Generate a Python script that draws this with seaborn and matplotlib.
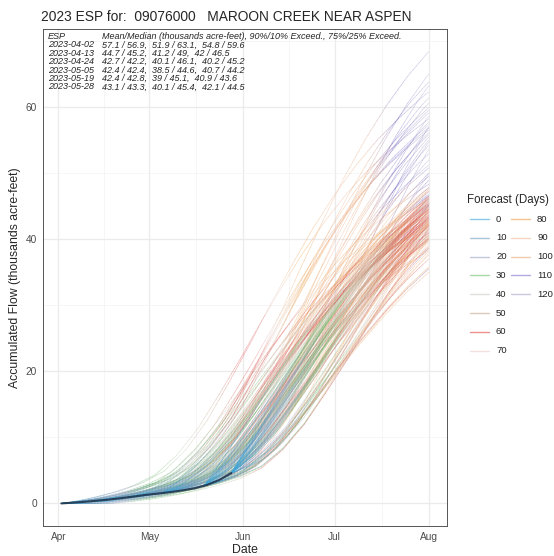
import numpy as np
import pandas as pd
import matplotlib
matplotlib.use("Agg")
import matplotlib.pyplot as plt
import matplotlib.dates as mdates
from matplotlib.collections import LineCollection
from matplotlib.colors import LinearSegmentedColormap
from matplotlib.lines import Line2D
import seaborn as sns

# ---------------------------------------------------------------- data
title = "2023 ESP for:  09076000   MAROON CREEK NEAR ASPEN"
season_start = "2023-04-01"
season_end = "2023-08-01"

# observed accumulated flow (thousands acre-feet) up to the last issue date
obs_dates = ["2023-04-02", "2023-04-06", "2023-04-10", "2023-04-14", "2023-04-18",
             "2023-04-22", "2023-04-26", "2023-04-30", "2023-05-04", "2023-05-08",
             "2023-05-12", "2023-05-16", "2023-05-20", "2023-05-24", "2023-05-28"]
obs_values = [0.0, 0.12, 0.26, 0.42, 0.6, 0.82, 1.05, 1.3, 1.5, 1.72,
              1.98, 2.3, 2.8, 3.55, 4.6]

# forecast issue dates and summary table text
issue_dates = ["2023-04-02", "2023-04-13", "2023-04-24",
               "2023-05-05", "2023-05-19", "2023-05-28"]
table_header = ["ESP", "Mean/Median (thousands acre-feet), 90%/10% Exceed., 75%/25% Exceed."]
table_stats = ["57.1 / 56.9,  51.9 / 63.1,  54.8 / 59.6",
               "44.7 / 45.2,  41.2 / 49,  42 / 46.5",
               "42.7 / 42.2,  40.1 / 46.1,  40.2 / 45.2",
               "42.4 / 42.4,  38.5 / 44.6,  40.7 / 44.2",
               "42.4 / 42.8,  39 / 45.1,  40.9 / 43.6",
               "43.1 / 43.3,  40.1 / 45.4,  42.1 / 44.5"]

# ensemble Aug 1 volumes for each issue date (sorted ascending)
vol_0402 = [45.0, 49.8, 51.2, 52.0, 52.9, 53.6, 54.2, 54.7, 55.0, 55.4,
            55.8, 56.1, 56.5, 56.8, 56.9, 57.0, 57.3, 57.7, 58.2, 58.6,
            59.1, 59.5, 59.9, 60.6, 61.4, 62.3, 63.2, 63.8, 65.0, 68.4]
vol_0413 = [35.5, 38.6, 40.0, 40.6, 41.0, 41.5, 41.9, 42.2, 42.8, 43.4,
            44.0, 44.5, 45.0, 45.1, 45.2, 45.2, 45.4, 45.7, 46.0, 46.3,
            46.5, 46.6, 46.8, 47.2, 47.8, 48.3, 48.9, 49.5, 50.0, 50.8]
vol_0424 = [35.0, 38.2, 39.6, 40.0, 40.1, 40.2, 40.2, 40.5, 41.0, 41.4,
            41.8, 42.0, 42.1, 42.2, 42.2, 42.3, 42.6, 43.0, 43.6, 44.2,
            44.8, 45.1, 45.3, 45.6, 45.9, 46.1, 46.5, 47.2, 47.5, 47.8]
vol_0505 = [35.8, 37.6, 38.3, 38.6, 39.4, 40.0, 40.6, 40.8, 41.2, 41.6,
            41.9, 42.1, 42.3, 42.4, 42.4, 42.5, 42.7, 43.0, 43.3, 43.7,
            44.0, 44.2, 44.3, 44.4, 44.5, 44.6, 44.8, 45.4, 46.3, 47.5]
vol_0519 = [35.6, 37.8, 38.7, 39.1, 39.8, 40.4, 40.9, 41.2, 41.6, 41.9,
            42.2, 42.5, 42.6, 42.7, 42.8, 42.8, 42.9, 43.1, 43.3, 43.5,
            43.6, 43.7, 44.0, 44.3, 44.7, 45.0, 45.3, 45.8, 45.9, 46.4]
vol_0528 = [37.0, 38.9, 39.8, 40.2, 40.9, 41.6, 42.0, 42.2, 42.5, 42.8,
            43.0, 43.1, 43.2, 43.3, 43.3, 43.4, 43.6, 43.8, 44.0, 44.2,
            44.4, 44.5, 44.6, 44.8, 45.1, 45.3, 45.6, 46.1, 46.2, 46.5]
ensemble_volumes = [vol_0402, vol_0413, vol_0424, vol_0505, vol_0519, vol_0528]

# each ensemble member (meteorological year): rank of its volume, melt timing offset (days)
member_rank = [14, 3, 27, 8, 20, 1, 11, 25, 6, 17, 29, 0, 22, 9, 15,
               4, 26, 12, 19, 2, 24, 7, 16, 28, 10, 5, 21, 13, 23, 18]
member_shift = [-10, 4, -3, 8, -6, 13, 0, -14, 5, 1, -4, 10, -8, 2, 16,
                -1, 6, -12, 9, -5, 0, 12, -9, 3, -2, 18, -6, 7, 1, -17]

# seasonal cumulative runoff shape: days after Apr 1 -> fraction of season total
profile_days = [0, 7, 14, 21, 28, 35, 42, 49, 56, 63, 70, 77, 84, 91, 98,
                105, 112, 119, 126, 133, 140, 154, 170]
profile_frac = [0.0, 0.005, 0.011, 0.019, 0.031, 0.046, 0.066, 0.096, 0.15, 0.225,
                0.32, 0.42, 0.525, 0.625, 0.72, 0.805, 0.88, 0.945, 1.0, 1.05,
                1.095, 1.17, 1.24]

# colour scale for lead time (days since issue)
forecast_days = [0, 10, 20, 30, 40, 50, 60, 70, 80, 90, 100, 110, 120]
forecast_colors = ["#3aa6da", "#6f9fc0", "#9aa8c0", "#6cbf6c", "#c9d0c0", "#c8a88c",
                   "#e04848", "#e8d0c8", "#f0a048", "#f0b898", "#eca878", "#8070c8",
                   "#a8a4cc"]

# ---------------------------------------------------------------- style
sns.set_style("white")
plt.rcParams["font.family"] = ["Liberation Sans", "DejaVu Sans"]

fig = plt.figure(figsize=(5.54, 5.56), dpi=100)
ax = fig.add_axes([43 / 554, 1 - 526 / 556, 404 / 554, 497 / 556])

cmap = LinearSegmentedColormap.from_list(
    "lead", list(zip(np.array(forecast_days) / 120.0, forecast_colors)))

t0 = pd.Timestamp(season_start)
t_end = pd.Timestamp(season_end)
x0 = mdates.date2num(t0)
end_day = (t_end - t0).days
obs_day = [(pd.Timestamp(d) - t0).days for d in obs_dates]

segments, seg_colors = [], []
for issue, vols in zip(issue_dates, ensemble_volumes):
    d0 = (pd.Timestamp(issue) - t0).days
    base = np.interp(d0, obs_day, obs_values)
    days = np.arange(d0, end_day + 1)
    for rank, shift in zip(member_rank, member_shift):
        v_end = vols[rank]
        p = np.interp(days - shift, profile_days, profile_frac)
        p_start, p_stop = p[0], p[-1]
        y = base + (v_end - base) * (p - p_start) / (p_stop - p_start)
        x = x0 + days
        pts = np.column_stack([x, y])
        lead_mid = (days[:-1] + days[1:]) / 2.0 - d0
        for i in range(len(days) - 1):
            segments.append(pts[i:i + 2])
            seg_colors.append(cmap(min(lead_mid[i], 120) / 120.0, alpha=0.42))

lc = LineCollection(segments, colors=seg_colors, linewidths=0.5, capstyle="round")
ax.add_collection(lc)

obs_df = pd.DataFrame({"date": pd.to_datetime(obs_dates), "flow": obs_values})
sns.lineplot(data=obs_df, x="date", y="flow", ax=ax, color="#22364d",
             linewidth=1.5, alpha=0.9, zorder=3)

# axes limits with 5% padding
x_lo = mdates.date2num(pd.Timestamp(issue_dates[0]))
x_hi = mdates.date2num(t_end)
pad = 0.05 * (x_hi - x_lo)
ax.set_xlim(x_lo - pad, x_hi + pad)
y_hi = max(max(v) for v in ensemble_volumes)
ax.set_ylim(-0.05 * y_hi, 1.05 * y_hi)

month_starts = pd.date_range("2023-04-01", "2023-08-01", freq="MS")
ms = mdates.date2num(month_starts)
ax.set_xticks(ms)
ax.xaxis.set_major_formatter(mdates.DateFormatter("%b"))
ax.set_xticks((ms[:-1] + ms[1:]) / 2.0, minor=True)
ax.set_yticks([0, 20, 40, 60])
ax.set_yticks([10, 30, 50, 70], minor=True)

ax.grid(which="major", color="#ebebeb", linewidth=0.9)
ax.grid(which="minor", color="#f3f3f3", linewidth=0.5)
ax.set_axisbelow(True)
for sp in ax.spines.values():
    sp.set_visible(True)
    sp.set_color("#555555")
    sp.set_linewidth(0.7)
ax.tick_params(which="major", length=2.5, width=0.6, color="#444444",
               labelsize=7.3, labelcolor="#4d4d4d", pad=2)
ax.tick_params(which="minor", length=0)

ax.set_xlabel("Date", fontsize=8.8, labelpad=1)
ax.set_ylabel("Accumulated Flow (thousands acre-feet)", fontsize=8.8, labelpad=3)

fig.text(41 / 554, 1 - 17 / 556, title, fontsize=9.9, va="center", ha="left")

# summary table in the top-left corner
row_h = 8.4 / 497
top_y = 1 - 3.0 / 497
fs_tab = 6.5
ax.text(0.012, top_y, table_header[0], transform=ax.transAxes, fontsize=fs_tab,
        style="italic", va="top", ha="left")
ax.text(0.145, top_y, table_header[1], transform=ax.transAxes, fontsize=fs_tab,
        style="italic", va="top", ha="left")
for i, (d, s) in enumerate(zip(issue_dates, table_stats)):
    yy = top_y - (i + 1) * row_h
    ax.text(0.012, yy, d, transform=ax.transAxes, fontsize=fs_tab,
            style="italic", va="top", ha="left")
    ax.text(0.145, yy, s, transform=ax.transAxes, fontsize=fs_tab,
            style="italic", va="top", ha="left")

# legend for lead-time colours
fig.text(467 / 554, 1 - 200 / 556, "Forecast (Days)", fontsize=8.3, va="center", ha="left")
for k, (d, c) in enumerate(zip(forecast_days, forecast_colors)):
    col, row = divmod(k, 8)
    yk = 1 - (219 + row * 18.8) / 556
    xk = (470 + col * 41) / 554
    fig.add_artist(Line2D([xk, xk + 19 / 554], [yk, yk], color=c, alpha=0.6,
                          linewidth=1.0, transform=fig.transFigure))
    fig.text(xk + 26 / 554, yk, str(d), fontsize=6.8, color="#222222",
             va="center", ha="left")

fig.savefig("out.png", dpi=100)
